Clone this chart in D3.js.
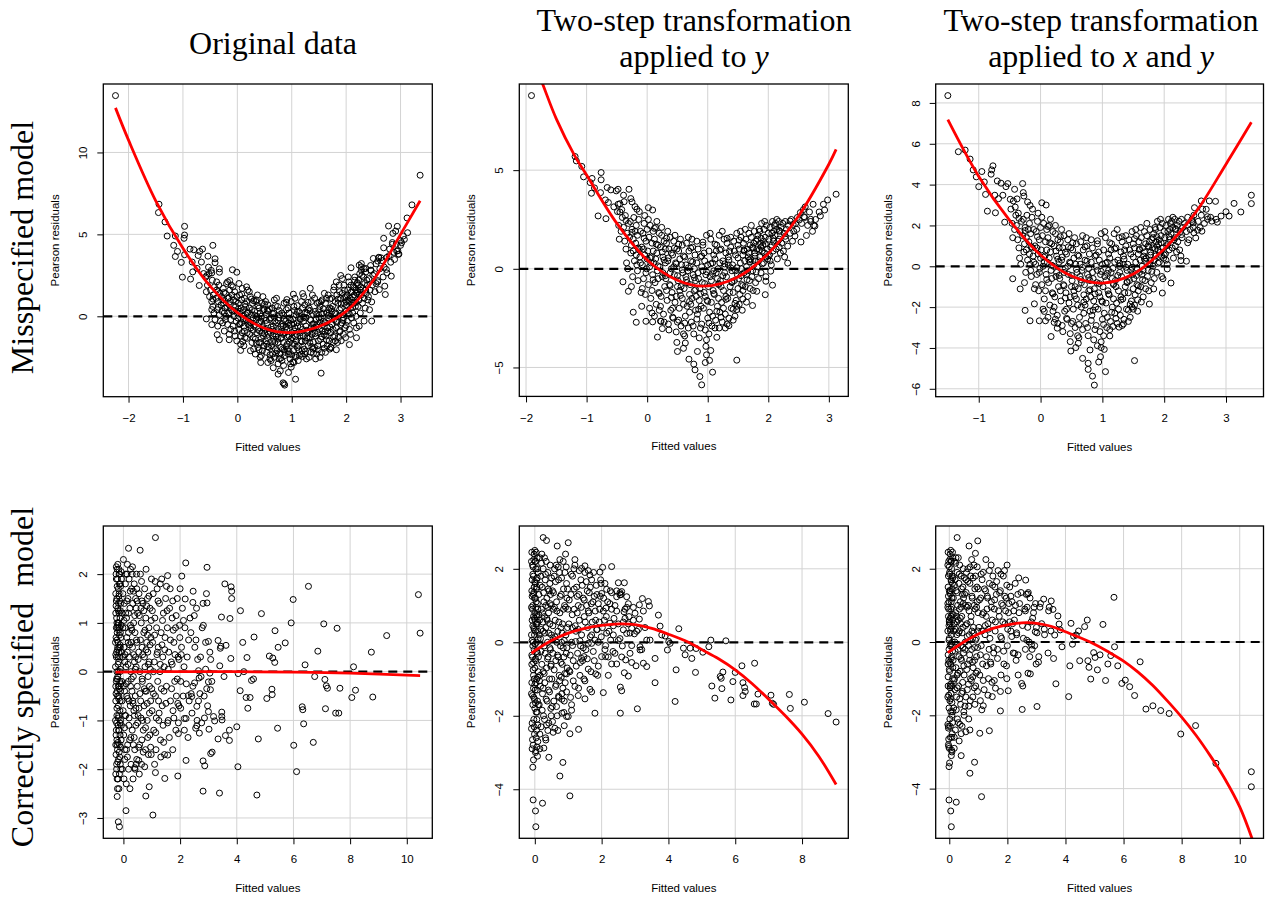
<!DOCTYPE html>
<html>
<head>
<meta charset="utf-8">
<script src="https://cdn.jsdelivr.net/npm/d3@7"></script>
<style>
html,body{margin:0;padding:0;background:#fff;}
svg{display:block;}
</style>
</head>
<body>
<svg id="chart" width="1265" height="899"></svg>
<script>
// ---- Residuals vs fitted values: [fitted, Pearson residual] ----

// Misspecified model, original data
const misOriginal = [
[-2.24,13.47],[3.36,8.61],[3.21,6.8],[3.12,6.0],[3.13,5.1],[-1.44,6.84],[-1.45,6.33],[-1.33,5.76],[-1.29,4.9],[-1.14,4.9],[-0.97,5.49],[-0.97,4.96],[-0.98,4.76],[-1.17,4.33],[-1.14,3.65],[-1.1,3.96],[-1.03,3.29],[-1.01,2.39],[-0.97,3.76],[-0.87,4.1],[-0.86,2.27],[-0.8,4.06],[-0.72,3.71],[-0.69,3.96],[-0.64,4.1],[-0.7,1.88],[-0.66,3.31],[-0.83,3.31],[-0.82,2.71],[-0.74,2.92],[-0.45,4.33],[-0.54,3.67],[-0.56,2.49],[-0.41,3.51],[-0.41,3.27],[-0.33,2.9],[-0.33,2.69],[-0.62,2.61],[-0.47,2.65],[-0.57,-0.16],[-0.47,0.41],[-0.47,-0.51],[-0.37,-1.12],[-0.33,-1.43],[-0.15,-1.43],[-0.09,2.84],[-0.01,2.69],[-0.14,2.18],[0.06,-2.08],[0.44,-2.39],[0.43,-2.82],[0.56,-2.82],[0.66,-3.14],[0.75,-3.53],[0.79,-3.33],[0.84,-4.06],[0.87,-4.2],[0.86,-4.12],[0.94,-3.43],[0.99,-3.1],[1.04,-2.82],[1.07,-3.84],[1.07,-2.39],[1.54,-3.47],[1.03,1.35],[0.91,1.02],[1.34,1.71],[1.2,1.39],[1.9,2.49],[2.09,2.96],[2.24,3.12],[2.28,3.22],[2.28,3.02],[2.36,2.92],[2.5,3.53],[2.45,2.82],[2.6,3.57],[2.64,3.57],[2.58,3.37],[2.58,2.18],[2.55,2.0],[2.61,1.63],[2.47,0.88],[2.47,-0.29],[2.33,-0.29],[2.19,-1.31],[2.06,-1.73],[1.91,-1.49],[1.82,-2.04],[1.72,-1.9],[2.69,4.76],[2.69,4.18],[2.71,1.84],[2.72,1.33],[2.74,2.86],[2.75,2.65],[2.78,5.51],[2.86,5.06],[2.85,4.39],[2.83,2.45],[2.91,5.2],[2.94,5.49],[2.89,3.47],[2.93,3.98],[2.96,3.78],[3.05,4.9],[3.02,4.49],[3.07,4.69],[3.0,4.33],
[-0.58,2.4],[-0.55,1.9],[-0.52,2.6],[-0.57,1.5],[-0.53,3.0],[-0.51,1.2],
[-0.49,1.6],[-0.47,0.9],[-0.46,2.2],[-0.44,1.3],[-0.43,0.2],[-0.42,1.8],[-0.41,-0.2],[-0.45,0.6],[-0.48,2.8],
[-0.39,1.1],[-0.38,1.6],[-0.37,0.4],[-0.36,-0.6],[-0.35,0.9],[-0.34,1.9],[-0.33,0.1],[-0.32,1.4],[-0.31,-0.3],[-0.3,0.7],[-0.38,2.1],[-0.35,1.5],
[-0.29,1.2],[-0.28,0.3],[-0.27,-0.4],[-0.26,1.7],[-0.25,0.8],[-0.24,-0.9],[-0.23,0.5],[-0.22,1.4],[-0.21,0.0],[-0.2,2.0],[-0.27,1.0],[-0.24,0.2],[-0.22,-0.2],
[-0.19,0.6],[-0.18,-0.5],[-0.17,1.1],[-0.16,0.2],[-0.15,-1.1],[-0.14,1.6],[-0.13,0.9],[-0.12,-0.2],[-0.11,0.4],[-0.1,1.3],[-0.18,2.1],[-0.15,0.7],[-0.12,-0.8],[-0.11,1.9],
[-0.09,0.3],[-0.08,-0.6],[-0.07,1.0],[-0.06,0.0],[-0.05,1.5],[-0.04,-1.2],[-0.03,0.6],[-0.02,-0.3],[-0.01,1.2],[0,0.2],[-0.08,1.8],[-0.05,-0.9],[-0.03,0.9],[-0.01,-1.5],
[0.01,-0.1],[0.02,0.8],[0.03,-0.8],[0.04,1.3],[0.05,0.3],[0.06,-1.2],[0.07,0.5],[0.08,-0.4],[0.09,1.7],[0.1,0.0],[0.03,2.0],[0.06,-1.7],[0.08,1.0],[0.04,-0.5],[0.09,-1.0],
[0.11,0.4],[0.12,-0.6],[0.13,1.1],[0.14,-1.3],[0.15,0.1],[0.16,-0.2],[0.17,0.9],[0.18,-1.0],[0.19,1.6],[0.2,-0.5],[0.12,-1.8],[0.15,0.6],[0.18,0.2],[0.13,-0.9],[0.17,1.8],
[0.21,-0.3],[0.22,0.5],[0.23,-1.1],[0.24,1.2],[0.25,-0.7],[0.26,0.1],[0.27,-1.6],[0.28,0.8],[0.29,-0.1],[0.3,-2.0],[0.22,1.5],[0.25,-0.4],[0.27,0.4],[0.29,-1.3],[0.24,-2.1],
[0.31,-0.6],[0.32,0.3],[0.33,-1.4],[0.34,0.9],[0.35,-0.2],[0.36,-1.0],[0.37,1.3],[0.38,-1.9],[0.39,-0.4],[0.4,0.5],[0.33,-2.3],[0.36,0.0],[0.38,-0.8],[0.4,-1.6],[0.35,1.0],
[0.41,-0.9],[0.42,0.2],[0.43,-1.6],[0.44,-0.3],[0.45,0.8],[0.46,-2.1],[0.47,-0.7],[0.48,-1.2],[0.49,0.4],[0.5,-0.1],[0.42,-2.5],[0.45,-1.0],[0.47,1.2],[0.49,-1.8],[0.44,0.0],
[0.51,-0.8],[0.52,-1.5],[0.53,0.1],[0.54,-2.2],[0.55,-0.4],[0.56,0.7],[0.57,-1.1],[0.58,-1.9],[0.59,-0.2],[0.6,-2.6],[0.52,0.9],[0.55,-1.3],[0.57,0.3],[0.59,-0.9],[0.54,-1.7],
[0.61,-1.0],[0.62,-0.1],[0.63,-1.8],[0.64,0.5],[0.65,-2.3],[0.66,-0.6],[0.67,-1.4],[0.68,1.0],[0.69,-0.3],[0.7,-2.0],[0.62,-2.7],[0.65,-1.2],[0.67,0.2],[0.69,-1.6],[0.64,-0.8],[0.68,-2.5],
[0.71,-1.2],[0.72,-0.4],[0.73,-2.1],[0.74,0.6],[0.75,-1.6],[0.76,-0.8],[0.77,-2.6],[0.78,0.1],[0.79,-1.0],[0.8,-1.9],[0.72,1.1],[0.74,-1.4],[0.76,-0.1],[0.78,-2.3],[0.8,-0.6],[0.75,-2.9],
[0.81,-1.3],[0.82,0.2],[0.83,-2.0],[0.84,-0.6],[0.85,-1.6],[0.86,0.8],[0.87,-2.4],[0.88,-1.0],[0.89,-0.3],[0.9,-1.8],[0.82,-2.7],[0.84,-1.1],[0.86,-0.2],[0.88,-2.2],[0.9,0.4],[0.85,-3.0],
[0.91,-0.8],[0.92,-1.7],[0.93,0.5],[0.94,-2.3],[0.95,-1.2],[0.96,-0.1],[0.97,-2.6],[0.98,-1.4],[0.99,0.9],[1.0,-0.5],[0.92,-2.0],[0.94,-0.4],[0.96,-1.6],[0.98,-2.9],[1.0,-1.0],[0.95,0.2],
[1.01,-1.3],[1.02,-0.2],[1.03,-2.1],[1.04,0.6],[1.05,-1.7],[1.06,-0.7],[1.07,-2.5],[1.08,0.1],[1.09,-1.1],[1.1,-1.9],[1.02,-2.8],[1.04,-0.9],[1.06,1.1],[1.08,-1.5],[1.1,-0.4],
[1.11,-0.6],[1.12,-1.8],[1.13,0.3],[1.14,-2.4],[1.15,-1.2],[1.16,-0.2],[1.17,-1.5],[1.18,0.9],[1.19,-2.1],[1.2,-0.8],[1.12,-2.7],[1.14,0.0],[1.16,-1.0],[1.18,-2.3],[1.2,0.5],
[1.21,-1.2],[1.22,-0.3],[1.23,-2.0],[1.24,0.7],[1.25,-1.5],[1.26,-0.6],[1.27,-2.6],[1.28,0.2],[1.29,-1.0],[1.3,-1.8],[1.22,1.2],[1.24,-2.3],[1.26,-0.1],[1.28,-1.3],[1.3,0.4],
[1.31,-0.9],[1.32,0.5],[1.33,-1.6],[1.34,-0.2],[1.35,-2.2],[1.36,0.9],[1.37,-1.1],[1.38,-0.5],[1.39,-2.0],[1.4,0.1],[1.32,-2.5],[1.34,-1.3],[1.36,-0.7],[1.38,1.3],[1.4,-1.6],
[1.41,-0.7],[1.42,-1.9],[1.43,0.3],[1.44,-1.2],[1.45,-0.2],[1.46,-2.3],[1.47,0.8],[1.48,-1.0],[1.49,-1.5],[1.5,0.4],[1.42,1.1],[1.44,-2.6],[1.46,-0.5],[1.48,-1.8],[1.5,-0.1],
[1.51,-0.8],[1.52,0.6],[1.53,-1.4],[1.54,-0.1],[1.55,-2.2],[1.56,1.0],[1.57,-0.5],[1.58,-1.7],[1.59,0.2],[1.6,-1.1],[1.52,-2.5],[1.54,0.9],[1.56,-0.9],[1.58,-0.3],[1.6,1.4],
[1.61,-0.4],[1.62,0.8],[1.63,-1.2],[1.64,0.2],[1.65,-1.8],[1.66,-0.7],[1.67,1.3],[1.68,-0.1],[1.69,-1.5],[1.7,0.5],[1.62,-2.2],[1.64,1.1],[1.66,-0.9],[1.68,0.4],[1.7,-2.0],
[1.71,0.0],[1.72,-1.0],[1.73,1.1],[1.74,-0.5],[1.75,0.6],[1.76,-1.6],[1.77,1.6],[1.78,-0.2],[1.79,-1.2],[1.8,0.9],[1.72,-1.9],[1.74,0.3],[1.76,-0.8],[1.78,1.8],[1.8,-1.5],
[1.81,0.2],[1.82,-0.7],[1.83,1.3],[1.84,-0.3],[1.85,0.8],[1.86,-1.3],[1.87,1.9],[1.88,0.4],[1.89,-0.9],[1.9,1.1],[1.82,2.1],[1.84,-1.6],[1.86,0.0],[1.88,1.5],[1.9,-0.5],
[1.91,0.5],[1.92,-0.4],[1.93,1.4],[1.94,0.1],[1.95,-1.1],[1.96,1.9],[1.97,0.8],[1.98,-0.7],[1.99,1.2],[2.0,0.3],[1.93,2.3],[1.95,-0.1],[1.97,1.6],[1.99,-1.3],[2.0,0.9],
[2.01,0.7],[2.02,-0.3],[2.03,1.6],[2.04,0.2],[2.05,2.1],[2.06,-0.8],[2.07,1.1],[2.08,0.5],[2.09,1.9],[2.1,-0.1],[2.02,1.3],[2.04,2.4],[2.06,0.9],[2.08,-1.1],[2.1,1.5],
[2.11,1.0],[2.12,0.2],[2.13,1.8],[2.14,-0.4],[2.15,1.3],[2.16,2.2],[2.17,0.6],[2.18,1.6],[2.19,-0.7],[2.2,2.0],[2.12,1.2],[2.14,0.8],[2.16,2.4],[2.18,0.0],[2.2,1.4],
[2.21,1.5],[2.22,0.6],[2.23,2.2],[2.24,1.0],[2.25,2.6],[2.26,0.2],[2.27,1.8],[2.28,1.3],[2.29,2.5],[2.3,0.8],[2.22,1.9],[2.24,-0.6],[2.26,1.6],[2.28,2.8],
[2.31,1.7],[2.32,2.4],[2.33,1.1],[2.34,2.0],[2.35,0.5],[2.36,2.7],[2.37,1.4],[2.38,2.2],[2.39,1.9],[2.4,1.0],[2.33,2.9],[2.36,1.6],
[2.42,2.3],[2.44,1.6],[2.46,2.8],[2.48,1.9],[2.45,3.1],[2.41,1.2],[2.49,2.5],[2.43,0.4],
[2.52,2.6],[2.55,3.2],[2.58,2.1],[2.62,2.9],[2.66,3.4],[2.68,2.4],[2.53,1.5],[2.6,3.6],[2.7,3.0],
[2.75,3.6],[2.8,4.1],[2.82,3.3],[2.88,3.9],[2.92,4.4],[2.97,3.8],[3.0,4.6],[2.95,4.0],[2.85,4.5],[2.79,3.7],
[0.02,0.45],[0.05,-0.45],[0.08,1.35],[0.11,-0.15],[0.14,0.75],[0.17,-1.35],[0.2,0.25],[0.23,-0.55],[0.26,1.05],[0.29,-0.85],[0.32,0.05],[0.35,-1.65],[0.38,0.65],[0.41,-0.35],[0.44,-1.35],[0.47,0.35],[0.5,-1.05],[0.53,-0.25],[0.56,-1.85],[0.59,0.45],[0.62,-0.65],[0.65,-1.55],[0.68,-0.05],[0.71,-2.25],[0.74,-0.95],[0.77,0.35],[0.8,-1.35],[0.83,-0.45],[0.86,-2.05],[0.89,-0.65],[0.92,-1.25],[0.95,-2.15],[0.98,-0.25],[1.01,-1.65],[1.04,-0.45],[1.07,-1.25],[1.1,0.25],[1.13,-2.05],[1.16,-0.65],[1.19,-1.55],[1.22,-0.05],[1.25,-2.15],[1.28,-0.85],[1.31,-1.35],[1.34,0.35],[1.37,-1.85],[1.4,-0.45],[1.43,-1.05],[1.46,0.15],[1.49,-2.05],[1.52,-0.35],[1.55,-1.25],[1.58,0.45],[1.61,-0.95],[1.64,-1.45],[1.67,0.05],[1.7,-0.65],[1.73,0.45],[1.76,-1.25],[1.79,0.15],[1.82,-0.35],[1.85,1.05],[1.88,-0.95],[1.91,0.75],[1.94,-0.25],[1.97,1.15],[2.0,-0.55],[2.03,0.95],[2.06,0.15],[2.09,1.45],[2.12,0.55],[2.15,1.75],[2.18,0.85],[2.21,2.05],[2.24,1.35],[0.1,-1.55],[0.3,0.95],[0.5,0.75],[0.7,0.65],[0.9,0.85],[1.1,0.65],[1.3,0.85],[1.5,0.85],[1.7,1.05],[0.4,-2.05],[0.6,-2.35],[0.8,-2.55],[1.0,-2.35],[1.2,-2.45],[1.4,-2.25],[1.6,-1.95],[0.55,0.35],[0.75,-0.25],[0.95,-0.55],[1.15,-0.15],[1.35,-0.25],[1.55,0.15],[0.65,0.15],[0.85,0.05],[1.05,0.35],[1.25,0.25],[1.45,-0.65],[-0.05,0.35],[-0.15,1.15],[-0.25,1.45],[-0.35,0.55],[-0.45,1.05]
];

// Misspecified model, two-step transformation applied to y
const misTransY = [
[-1.91,8.78],[-1.19,5.69],[-1.17,5.47],[-1.08,5.19],[-1.05,4.66],[-0.91,4.58],[-0.76,4.88],[-0.76,4.51],[-0.77,3.86],[-0.94,4.37],[-0.87,4.1],[-0.92,3.83],[-0.81,2.68],[-0.68,2.54],[-0.66,4.12],[-0.6,4.0],[-0.51,3.95],[-0.48,4.03],[-0.3,4.03],[-0.39,3.73],[-0.69,3.49],[-0.64,3.36],[-0.55,3.14],[-0.45,2.88],[-0.27,3.56],[-0.25,3.39],[-0.2,3.15],[-0.17,3.02],[0.02,3.1],[0.09,2.98],[-0.48,3.27],[-0.4,-0.66],[-0.31,-1.14],[-0.23,-2.2],[-0.18,-2.71],[-0.09,-1.9],[-0.02,-2.66],[0.09,-2.69],[0.08,-2.24],[0.17,-3.46],[0.23,-2.66],[0.25,-3.03],[0.49,-3.73],[0.5,-4.19],[0.6,-4.03],[0.63,-3.76],[0.69,-4.58],[0.77,-4.83],[0.79,-5.12],[0.83,-4.19],[0.87,-5.46],[0.9,-5.88],[0.96,-4.75],[0.97,-3.93],[1.03,-4.64],[1.05,-4.14],[1.08,-5.24],[0.98,-4.36],[1.48,-4.63],[1.15,-3.47],[1.19,-3.0],[1.29,-3.0],[1.35,-2.88],[1.48,-2.07],[1.58,-1.53],[1.64,-1.69],[1.74,-1.86],[1.81,-1.14],[1.95,-1.31],[1.96,-0.63],[2.07,-0.83],[2.04,-0.12],[2.32,0.29],[2.32,1.15],[2.54,1.36],[2.63,1.69],[2.44,1.66],[2.41,2.25],[2.53,2.85],[2.61,3.14],[2.74,3.27],[2.68,2.88],[2.7,2.51],[2.77,2.17],[2.84,2.88],[2.86,2.68],[2.91,3.27],[2.93,2.98],[2.98,3.49],[3.12,3.78],[2.59,2.64],[2.51,2.47],[2.36,2.42],
[-0.49,2.9],[-0.47,2.2],[-0.45,3.3],[-0.43,1.9],[-0.41,2.6],[-0.46,1.5],[-0.42,3.0],
[-0.39,2.1],[-0.37,1.4],[-0.36,2.7],[-0.34,0.3],[-0.33,1.8],[-0.31,2.3],[-0.38,3.4],[-0.35,1.0],[-0.32,0.0],
[-0.29,1.6],[-0.28,2.4],[-0.27,0.8],[-0.26,1.2],[-0.25,2.0],[-0.24,-0.4],[-0.23,1.5],[-0.22,2.6],[-0.21,0.4],[-0.2,1.9],[-0.26,-0.9],[-0.23,0.9],
[-0.19,1.3],[-0.18,2.2],[-0.17,0.2],[-0.16,1.7],[-0.15,-0.6],[-0.14,2.5],[-0.13,1.0],[-0.12,0.6],[-0.11,1.9],[-0.1,-1.2],[-0.18,0.7],[-0.16,-0.1],[-0.13,2.9],[-0.11,0.3],
[-0.09,1.1],[-0.08,0.2],[-0.07,1.8],[-0.06,-0.5],[-0.05,2.3],[-0.04,0.7],[-0.03,-1.3],[-0.02,1.4],[-0.01,0.0],[0,2.0],[-0.08,-1.0],[-0.06,1.0],[-0.04,2.7],[-0.02,-0.2],[0,0.5],
[0.01,0.9],[0.02,-0.8],[0.03,1.6],[0.04,0.1],[0.05,2.2],[0.06,-1.5],[0.07,0.6],[0.08,1.3],[0.09,-0.3],[0.1,1.9],[0.02,2.5],[0.04,-2.0],[0.06,0.3],[0.08,-1.1],[0.1,0.9],
[0.11,0.3],[0.12,1.5],[0.13,-0.7],[0.14,2.1],[0.15,-1.8],[0.16,0.8],[0.17,-0.1],[0.18,1.2],[0.19,-1.2],[0.2,1.8],[0.12,-2.4],[0.14,0.5],[0.16,2.4],[0.18,-0.5],[0.2,-2.1],
[0.21,0.1],[0.22,1.1],[0.23,-1.4],[0.24,1.7],[0.25,-0.4],[0.26,0.6],[0.27,-2.3],[0.28,1.4],[0.29,-0.9],[0.3,0.3],[0.22,-1.9],[0.24,2.1],[0.26,-0.2],[0.28,-2.7],[0.3,1.0],
[0.31,-0.5],[0.32,1.3],[0.33,-1.6],[0.34,0.4],[0.35,-2.8],[0.36,1.0],[0.37,-0.8],[0.38,1.6],[0.39,-2.1],[0.4,0.0],[0.32,-1.1],[0.34,1.9],[0.36,-3.1],[0.38,-0.2],[0.4,0.8],
[0.41,-1.2],[0.42,0.7],[0.43,-2.5],[0.44,1.4],[0.45,-0.3],[0.46,-1.7],[0.47,0.3],[0.48,-3.2],[0.49,1.0],[0.5,-0.9],[0.42,-2.0],[0.44,0.1],[0.46,1.7],[0.48,-1.4],[0.5,-2.7],
[0.51,-0.6],[0.52,0.9],[0.53,-2.0],[0.54,-1.1],[0.55,1.5],[0.56,-2.9],[0.57,0.2],[0.58,-1.5],[0.59,-0.2],[0.6,-3.3],[0.52,-2.6],[0.54,0.5],[0.56,-0.9],[0.58,1.2],[0.6,-1.8],
[0.61,-1.0],[0.62,0.6],[0.63,-2.4],[0.64,-0.4],[0.65,1.3],[0.66,-1.9],[0.67,-0.1],[0.68,-3.0],[0.69,0.9],[0.7,-1.3],[0.62,-3.4],[0.64,0.2],[0.66,-0.7],[0.68,1.6],[0.7,-2.2],
[0.71,-0.8],[0.72,0.4],[0.73,-2.7],[0.74,-1.5],[0.75,1.1],[0.76,-0.3],[0.77,-3.3],[0.78,-1.1],[0.79,0.7],[0.8,-2.1],[0.72,-1.8],[0.74,1.5],[0.76,-2.9],[0.78,0.0],[0.8,-0.6],
[0.81,-1.4],[0.82,0.3],[0.83,-2.3],[0.84,1.0],[0.85,-0.5],[0.86,-3.5],[0.87,-1.0],[0.88,0.6],[0.89,-1.9],[0.9,-2.8],[0.82,1.4],[0.84,-0.2],[0.86,-1.6],[0.88,-3.0],[0.9,0.1],
[0.91,-0.7],[0.92,1.2],[0.93,-2.0],[0.94,-1.2],[0.95,0.4],[0.96,-3.1],[0.97,-0.3],[0.98,1.7],[0.99,-1.6],[1.0,-2.5],[0.92,-0.1],[0.94,0.8],[0.96,-1.4],[0.98,-3.6],[1.0,0.2],
[1.01,-0.9],[1.02,0.9],[1.03,-2.2],[1.04,-0.4],[1.05,1.5],[1.06,-1.7],[1.07,-2.9],[1.08,0.3],[1.09,-1.1],[1.1,-0.1],[1.02,-3.3],[1.04,1.8],[1.06,-0.6],[1.08,-2.4],[1.1,0.7],
[1.11,-1.3],[1.12,0.5],[1.13,-2.6],[1.14,-0.2],[1.15,1.2],[1.16,-1.9],[1.17,0.0],[1.18,-0.8],[1.19,1.7],[1.2,-2.2],[1.12,-3.0],[1.14,0.9],[1.16,-0.5],[1.18,-1.5],[1.2,0.3],
[1.21,-0.6],[1.22,1.0],[1.23,-1.7],[1.24,-2.7],[1.25,0.4],[1.26,-1.1],[1.27,1.5],[1.28,-0.2],[1.29,-2.3],[1.3,0.8],[1.22,-0.9],[1.24,1.9],[1.26,-2.0],[1.28,0.1],[1.3,-1.4],
[1.31,-0.4],[1.32,1.3],[1.33,-1.5],[1.34,0.2],[1.35,-2.5],[1.36,0.9],[1.37,-0.9],[1.38,1.6],[1.39,-2.0],[1.4,-0.1],[1.32,-2.8],[1.34,0.6],[1.36,-1.2],[1.38,1.1],[1.4,-0.7],
[1.41,0.2],[1.42,-1.2],[1.43,1.4],[1.44,-0.6],[1.45,-2.4],[1.46,0.7],[1.47,-1.6],[1.48,1.8],[1.49,-0.3],[1.5,-1.0],[1.42,-2.6],[1.44,0.9],[1.46,-0.1],[1.48,-1.9],[1.5,1.2],
[1.51,-0.5],[1.52,1.0],[1.53,-1.3],[1.54,0.3],[1.55,1.6],[1.56,-0.8],[1.57,-2.1],[1.58,0.7],[1.59,1.3],[1.6,-0.2],[1.52,-1.8],[1.54,1.9],[1.56,0.0],[1.58,-1.1],[1.6,0.9],
[1.61,0.4],[1.62,-0.9],[1.63,1.5],[1.64,-0.3],[1.65,1.0],[1.66,-1.4],[1.67,0.6],[1.68,1.8],[1.69,-0.6],[1.7,1.2],[1.62,2.0],[1.64,0.1],[1.66,-0.1],[1.68,0.8],[1.7,-1.0],
[1.71,0.5],[1.72,1.6],[1.73,-0.4],[1.74,1.1],[1.75,-1.1],[1.76,0.2],[1.77,1.9],[1.78,0.8],[1.79,-0.7],[1.8,1.4],[1.72,2.2],[1.74,-0.1],[1.76,1.3],[1.78,0.4],
[1.81,1.0],[1.82,0.1],[1.83,1.7],[1.84,-0.5],[1.85,2.0],[1.86,0.6],[1.87,1.3],[1.88,-0.2],[1.89,2.3],[1.9,0.9],[1.82,1.5],[1.84,0.4],[1.86,1.9],[1.88,1.1],
[1.91,1.2],[1.92,0.3],[1.93,2.0],[1.94,0.8],[1.95,1.6],[1.96,-0.4],[1.97,2.2],[1.98,1.0],[1.99,0.5],[2.0,1.8],[1.92,1.4],[1.94,2.4],[1.96,0.6],
[2.01,1.5],[2.02,0.7],[2.03,2.1],[2.04,1.1],[2.05,0.2],[2.06,1.8],[2.07,2.4],[2.08,0.9],[2.09,1.4],[2.1,2.2],[2.03,0.4],[2.06,1.2],[2.09,1.9],
[2.11,1.7],[2.12,2.3],[2.13,1.0],[2.14,2.0],[2.15,0.5],[2.16,1.4],[2.17,2.4],[2.18,1.1],[2.19,1.9],[2.2,0.8],[2.14,2.5],[2.18,1.5],
[2.21,2.1],[2.22,1.3],[2.24,2.3],[2.25,0.9],[2.26,1.8],[2.28,2.4],[2.29,1.5],[2.3,2.0],[2.27,0.6],
[2.33,2.2],[2.36,1.8],[2.38,2.5],[2.42,1.9],[2.45,2.3],[2.48,2.6],[2.4,1.4],[2.47,2.0],
[2.55,2.3],[2.6,2.6],[2.65,2.2],[2.7,2.4],[2.73,1.9],[2.78,2.5],[2.58,3.0],[2.75,2.2],
[0.05,0.55],[0.1,-0.55],[0.15,1.25],[0.2,-1.25],[0.25,0.85],[0.3,-0.35],[0.35,0.55],[0.4,-1.45],[0.45,1.05],[0.5,-0.35],[0.55,-1.35],[0.6,0.65],[0.65,-0.55],[0.7,-1.65],[0.75,0.35],[0.8,-1.05],[0.85,-2.05],[0.9,0.65],[0.95,-0.75],[1.0,-1.65],[1.05,0.25],[1.1,-1.25],[1.15,-2.15],[1.2,0.95],[1.25,-0.35],[1.3,-1.55],[1.35,0.45],[1.4,-0.65],[1.45,-1.75],[1.5,0.55],[1.55,-0.35],[1.6,0.95],[1.65,-0.55],[1.7,0.35],[1.75,1.05],[1.8,-0.15],[1.85,0.95],[1.9,0.25],[1.95,1.25],[2.0,0.65],[0.12,2.05],[0.32,1.55],[0.52,1.25],[0.72,1.05],[0.92,1.35],[1.12,1.25],[1.32,1.55],[1.52,1.45],[0.22,-2.65],[0.42,-2.45],[0.62,-2.75],[0.82,-2.55],[1.02,-2.75],[1.22,-2.45],[1.42,-2.05],[-0.15,1.05],[-0.25,1.85],[-0.05,1.55],[-0.35,2.45],[0.18,0.15],[0.38,-0.85],[0.58,-0.05],[0.78,-0.45],[0.98,-0.15],[1.18,-0.75],[1.38,0.05],[1.58,-0.85],[1.78,0.65],[0.28,0.45],[0.48,0.25],[0.68,0.05],[0.88,-1.25],[1.08,-0.25],[1.28,0.25],[1.48,0.05],[1.68,0.45],[1.88,1.55],[2.08,1.55],[2.18,1.95],[2.28,1.65]
];

// Misspecified model, two-step transformation applied to x and y
const misTransXY = [
[-1.5,8.36],[-1.33,5.61],[-1.22,5.69],[-1.14,5.25],[-1.09,4.72],[-0.95,4.64],[-0.77,4.92],[-0.79,4.72],[-0.8,4.51],[-1.04,4.38],[-0.91,4.13],[-1.0,3.9],[-0.89,3.52],[-0.86,2.7],[-0.73,2.62],[-0.7,4.18],[-0.64,4.07],[-0.56,3.9],[-0.53,4.05],[-0.29,4.05],[-0.42,3.77],[-0.74,3.48],[-0.68,3.31],[-0.61,3.48],[-0.49,3.28],[-0.28,3.61],[-0.27,3.44],[-0.21,3.15],[-0.17,2.98],[0.02,3.11],[0.09,3.0],[-0.58,2.16],[-0.45,-0.61],[-0.33,-1.11],[-0.25,-2.16],[-0.17,-2.67],[-0.1,-1.84],[-0.02,-2.67],[0.08,-2.67],[0.06,-2.21],[0.17,-3.44],[0.24,-2.59],[0.27,-3.03],[0.48,-3.69],[0.49,-4.15],[0.57,-3.98],[0.61,-3.77],[0.68,-4.51],[0.77,-4.75],[0.77,-5.05],[0.8,-4.1],[0.84,-5.38],[0.87,-5.82],[0.94,-4.69],[0.92,-3.89],[0.98,-3.98],[1.03,-4.07],[1.05,-5.16],[0.97,-4.43],[1.52,-4.62],[1.12,-3.41],[1.17,-2.95],[1.27,-2.98],[1.34,-2.82],[1.5,-2.1],[1.57,-1.64],[1.63,-1.75],[1.76,-1.85],[1.83,-1.11],[1.97,-1.31],[1.98,-0.61],[2.11,-0.82],[2.05,-0.13],[2.27,0.28],[2.36,0.25],[2.38,1.15],[2.51,1.39],[2.61,1.72],[2.48,1.64],[2.38,2.02],[2.45,2.3],[2.49,2.87],[2.6,3.2],[2.73,3.2],[2.68,2.79],[2.7,2.43],[2.77,2.21],[2.86,2.16],[2.92,2.46],[2.84,2.3],[3.0,2.67],[3.05,2.46],[3.13,3.08],[3.24,2.66],[3.41,3.48],[3.41,3.07],[2.83,3.18],[2.47,2.13],[2.54,1.77],
[-0.48,2.8],[-0.46,2.1],[-0.44,3.2],[-0.42,1.8],[-0.4,2.5],[-0.45,1.4],[-0.41,2.9],
[-0.39,2.0],[-0.37,1.3],[-0.36,2.6],[-0.34,0.4],[-0.33,1.7],[-0.31,2.2],[-0.38,3.3],[-0.35,0.9],[-0.32,0.1],
[-0.29,1.5],[-0.28,2.3],[-0.27,0.7],[-0.26,1.1],[-0.25,1.9],[-0.24,-0.3],[-0.23,1.4],[-0.22,2.5],[-0.21,0.3],[-0.2,1.8],[-0.26,-0.8],[-0.23,0.8],
[-0.19,1.2],[-0.18,2.1],[-0.17,0.1],[-0.16,1.6],[-0.15,-0.5],[-0.14,2.4],[-0.13,0.9],[-0.12,0.5],[-0.11,1.8],[-0.1,-1.1],[-0.18,0.6],[-0.16,-0.2],[-0.13,2.8],[-0.11,0.2],
[-0.09,1.0],[-0.08,0.1],[-0.07,1.7],[-0.06,-0.4],[-0.05,2.2],[-0.04,0.6],[-0.03,-1.2],[-0.02,1.3],[-0.01,-0.1],[0,1.9],[-0.08,-0.9],[-0.06,0.9],[-0.04,2.6],[-0.02,-0.3],[0,0.4],
[0.01,0.8],[0.02,-0.9],[0.03,1.5],[0.04,0.0],[0.05,2.1],[0.06,-1.6],[0.07,0.5],[0.08,1.2],[0.09,-0.4],[0.1,1.8],[0.02,2.4],[0.04,-2.1],[0.06,0.2],[0.08,-1.2],[0.1,0.8],
[0.11,0.2],[0.12,1.4],[0.13,-0.8],[0.14,2.0],[0.15,-1.9],[0.16,0.7],[0.17,-0.2],[0.18,1.1],[0.19,-1.3],[0.2,1.7],[0.12,-2.5],[0.14,0.4],[0.16,2.3],[0.18,-0.6],[0.2,-2.2],
[0.21,0.0],[0.22,1.0],[0.23,-1.5],[0.24,1.6],[0.25,-0.5],[0.26,0.5],[0.27,-2.4],[0.28,1.3],[0.29,-1.0],[0.3,0.2],[0.22,-2.0],[0.24,2.0],[0.26,-0.3],[0.28,-2.8],[0.3,0.9],
[0.31,-0.6],[0.32,1.2],[0.33,-1.7],[0.34,0.3],[0.35,-2.9],[0.36,0.9],[0.37,-0.9],[0.38,1.5],[0.39,-2.2],[0.4,-0.1],[0.32,-1.2],[0.34,1.8],[0.36,-3.2],[0.38,-0.3],[0.4,0.7],
[0.41,-1.3],[0.42,0.6],[0.43,-2.6],[0.44,1.3],[0.45,-0.4],[0.46,-1.8],[0.47,0.2],[0.48,-3.3],[0.49,0.9],[0.5,-1.0],[0.42,-2.1],[0.44,0.0],[0.46,1.6],[0.48,-1.5],[0.5,-2.8],
[0.51,-0.7],[0.52,0.8],[0.53,-2.1],[0.54,-1.2],[0.55,1.4],[0.56,-3.0],[0.57,0.1],[0.58,-1.6],[0.59,-0.3],[0.6,-3.4],[0.52,-2.7],[0.54,0.4],[0.56,-1.0],[0.58,1.1],[0.6,-1.9],
[0.61,-1.1],[0.62,0.5],[0.63,-2.5],[0.64,-0.5],[0.65,1.2],[0.66,-2.0],[0.67,-0.2],[0.68,-3.1],[0.69,0.8],[0.7,-1.4],[0.62,-3.5],[0.64,0.1],[0.66,-0.8],[0.68,1.5],[0.7,-2.3],
[0.71,-0.9],[0.72,0.3],[0.73,-2.8],[0.74,-1.6],[0.75,1.0],[0.76,-0.4],[0.77,-3.4],[0.78,-1.2],[0.79,0.6],[0.8,-2.2],[0.72,-1.9],[0.74,1.4],[0.76,-3.0],[0.78,-0.1],[0.8,-0.7],
[0.81,-1.5],[0.82,0.2],[0.83,-2.4],[0.84,0.9],[0.85,-0.6],[0.86,-3.6],[0.87,-1.1],[0.88,0.5],[0.89,-2.0],[0.9,-2.9],[0.82,1.3],[0.84,-0.3],[0.86,-1.7],[0.88,-3.1],[0.9,0.0],
[0.91,-0.8],[0.92,1.1],[0.93,-2.1],[0.94,-1.3],[0.95,0.3],[0.96,-3.2],[0.97,-0.4],[0.98,1.6],[0.99,-1.7],[1.0,-2.6],[0.92,-0.2],[0.94,0.7],[0.96,-1.5],[0.98,-3.7],[1.0,0.1],
[1.01,-1.0],[1.02,0.8],[1.03,-2.3],[1.04,-0.5],[1.05,1.4],[1.06,-1.8],[1.07,-3.0],[1.08,0.2],[1.09,-1.2],[1.1,-0.2],[1.02,-3.4],[1.04,1.7],[1.06,-0.7],[1.08,-2.5],[1.1,0.6],
[1.11,-1.4],[1.12,0.4],[1.13,-2.7],[1.14,-0.3],[1.15,1.1],[1.16,-2.0],[1.17,-0.1],[1.18,-0.9],[1.19,1.6],[1.2,-2.3],[1.12,-3.1],[1.14,0.8],[1.16,-0.6],[1.18,-1.6],[1.2,0.2],
[1.21,-0.7],[1.22,0.9],[1.23,-1.8],[1.24,-2.8],[1.25,0.3],[1.26,-1.2],[1.27,1.4],[1.28,-0.3],[1.29,-2.4],[1.3,0.7],[1.22,-1.0],[1.24,1.8],[1.26,-2.1],[1.28,0.0],[1.3,-1.5],
[1.31,-0.5],[1.32,1.2],[1.33,-1.6],[1.34,0.1],[1.35,-2.6],[1.36,0.8],[1.37,-1.0],[1.38,1.5],[1.39,-2.1],[1.4,-0.2],[1.32,-2.9],[1.34,0.5],[1.36,-1.3],[1.38,1.0],[1.4,-0.8],
[1.41,0.1],[1.42,-1.3],[1.43,1.3],[1.44,-0.7],[1.45,-2.5],[1.46,0.6],[1.47,-1.7],[1.48,1.7],[1.49,-0.4],[1.5,-1.1],[1.42,-2.7],[1.44,0.8],[1.46,-0.2],[1.48,-2.0],[1.5,1.1],
[1.51,-0.6],[1.52,0.9],[1.53,-1.4],[1.54,0.2],[1.55,1.5],[1.56,-0.9],[1.57,-2.2],[1.58,0.6],[1.59,1.2],[1.6,-0.3],[1.52,-1.9],[1.54,1.8],[1.56,-0.1],[1.58,-1.2],[1.6,0.8],
[1.61,0.3],[1.62,-1.0],[1.63,1.4],[1.64,-0.4],[1.65,0.9],[1.66,-1.5],[1.67,0.5],[1.68,1.7],[1.69,-0.7],[1.7,1.1],[1.62,1.9],[1.64,0.0],[1.66,-0.2],[1.68,0.7],[1.7,-1.1],
[1.71,0.4],[1.72,1.5],[1.73,-0.5],[1.74,1.0],[1.75,-1.2],[1.76,0.1],[1.77,1.8],[1.78,0.7],[1.79,-0.8],[1.8,1.3],[1.72,2.1],[1.74,-0.2],[1.76,1.2],[1.78,0.3],
[1.81,0.9],[1.82,0.0],[1.83,1.6],[1.84,-0.6],[1.85,1.9],[1.86,0.5],[1.87,1.2],[1.88,-0.3],[1.89,2.2],[1.9,0.8],[1.82,1.4],[1.84,0.3],[1.86,1.8],[1.88,1.0],
[1.91,1.1],[1.92,0.2],[1.93,1.9],[1.94,0.7],[1.95,1.5],[1.96,-0.5],[1.97,2.1],[1.98,0.9],[1.99,0.4],[2.0,1.7],[1.92,1.3],[1.94,2.3],[1.96,0.5],
[2.01,1.4],[2.02,0.6],[2.03,2.0],[2.04,1.0],[2.05,0.1],[2.06,1.7],[2.07,2.3],[2.08,0.8],[2.09,1.3],[2.1,2.1],[2.03,0.3],[2.06,1.1],[2.09,1.8],
[2.11,1.6],[2.12,2.2],[2.13,0.9],[2.14,1.9],[2.15,0.4],[2.16,1.3],[2.17,2.3],[2.18,1.0],[2.19,1.8],[2.2,0.7],[2.14,2.4],[2.18,1.4],
[2.21,2.0],[2.22,1.2],[2.24,2.2],[2.25,0.8],[2.26,1.7],[2.28,2.3],[2.29,1.4],[2.3,1.9],[2.27,0.5],
[2.33,2.1],[2.36,1.7],[2.38,2.4],[2.42,1.8],[2.45,2.2],[2.48,2.5],[2.4,1.3],[2.47,1.9],
[2.55,2.2],[2.6,2.5],[2.65,2.1],[2.7,2.3],[2.58,1.9],[2.75,2.4],[2.62,2.8],
[0.05,0.45],[0.1,-0.65],[0.15,1.15],[0.2,-1.35],[0.25,0.75],[0.3,-0.45],[0.35,0.45],[0.4,-1.55],[0.45,0.95],[0.5,-0.45],[0.55,-1.45],[0.6,0.55],[0.65,-0.65],[0.7,-1.75],[0.75,0.25],[0.8,-1.15],[0.85,-2.15],[0.9,0.55],[0.95,-0.85],[1.0,-1.75],[1.05,0.15],[1.1,-1.35],[1.15,-2.25],[1.2,0.85],[1.25,-0.45],[1.3,-1.65],[1.35,0.35],[1.4,-0.75],[1.45,-1.85],[1.5,0.45],[1.55,-0.45],[1.6,0.85],[1.65,-0.65],[1.7,0.25],[1.75,0.95],[1.8,-0.25],[1.85,0.85],[1.9,0.15],[1.95,1.15],[2.0,0.55],[0.12,1.95],[0.32,1.45],[0.52,1.15],[0.72,0.95],[0.92,1.25],[1.12,1.15],[1.32,1.45],[1.52,1.35],[0.22,-2.75],[0.42,-2.55],[0.62,-2.85],[0.82,-2.65],[1.02,-2.85],[1.22,-2.55],[1.42,-2.15],[-0.15,0.95],[-0.25,1.75],[-0.05,1.45],[-0.35,2.35],[0.18,0.05],[0.38,-0.95],[0.58,-0.15],[0.78,-0.55],[0.98,-0.25],[1.18,-0.85],[1.38,-0.05],[1.58,-0.95],[1.78,0.55],[0.28,0.35],[0.48,0.15],[0.68,-0.05],[0.88,-1.35],[1.08,-0.35],[1.28,0.15],[1.48,-0.05],[1.68,0.35],[1.88,1.45],[2.08,1.45],[2.18,1.85],[2.28,1.55]
];

// Correctly specified model, original data
const corOriginal = [
[1.13,2.75],[0.18,2.53],[0.59,2.49],[2.2,2.23],[2.95,2.14],[2.06,1.96],[1.56,1.97],[3.58,1.8],[3.8,1.74],[3.82,1.65],[3.82,1.5],[2.93,1.6],[2.95,1.41],[2.81,1.4],[2.18,1.49],[2.45,1.42],[3.46,1.12],[3.76,1.09],[4.13,1.25],[4.87,1.19],[6.53,1.75],[5.99,1.48],[5.92,1.0],[7.07,0.98],[7.54,0.89],[10.41,1.58],[10.47,0.79],[9.29,0.74],[8.75,0.4],[8.12,0.1],[6.86,0.42],[6.41,0.14],[5.71,0.59],[5.46,0.5],[5.35,0.84],[5.15,0.32],[5.27,0.28],[5.34,0.19],[4.61,0.71],[4.21,0.6],[4.36,0.29],[3.79,0.27],[3.34,0.64],[3.44,0.52],[3.42,0.48],[3.62,0.54],[3.4,0.12],[3.0,0.62],[3.08,0.25],[2.65,0.02],[3.55,-0.1],[4.05,-0.04],[4.25,0.0],[6.75,-0.1],[7.11,-0.16],[7.16,-0.29],[7.2,-0.34],[7.64,-0.34],[8.19,-0.38],[8.06,-0.53],[8.8,-0.52],[7.49,-0.85],[7.6,-0.85],[6.31,-0.72],[6.33,-0.78],[6.36,-1.07],[6.7,-1.45],[7.13,-0.76],[6.01,-1.51],[6.11,-2.05],[5.44,-1.16],[5.06,-0.55],[5.24,-0.36],[5.25,-0.47],[4.76,-1.38],[4.71,-2.53],[4.04,-1.95],[4.0,-1.13],[4.12,-0.39],[4.33,-0.53],[4.47,-0.53],[4.39,-0.75],[4.52,-0.18],[4.59,-0.15],[3.74,-1.2],[3.6,-1.31],[3.74,-1.41],[3.34,-1.38],[3.39,-2.49],[2.81,-2.45],[2.87,-1.93],[2.81,-1.83],[2.21,-1.82],[3.08,-1.68],[3.13,-1.65],[3.02,-1.18],[2.55,-1.16],[2.59,-1.11],[2.68,-1.26],[1.94,-1.27],[1.74,-1.6],[1.56,-1.71],[1.46,-2.19],[1.13,-2.07],[1.92,-2.14],[0.91,-2.36],[0.79,-2.55],[1.04,-2.94],[0.09,-2.85],[-0.18,-3.08],[-0.14,-3.18],[-0.22,-2.56],[0.4,-1.97],[0.54,-1.82],[3.22,-1.01],[3.47,-0.92],[3.48,-0.99],[3.47,-0.83],[3.0,-0.82],[3.18,-0.92],[2.59,-0.71],[2.41,-0.51],[2.29,-0.49],[2.15,-0.96],[2.21,-0.96],[2.02,-0.75],[2.74,-0.1],[2.67,-0.13],[2.51,-0.23],[2.39,-0.45],[2.94,-0.35],[3.07,-0.37],[3.0,-0.21],[3.05,-0.03],
[-0.28,0.1],[-0.27,-0.6],[-0.27,1.2],[-0.26,-1.3],[-0.26,0.7],[-0.25,1.9],[-0.25,-0.2],[-0.24,-1.9],[-0.24,0.4],[-0.23,1.5],[-0.23,-0.9],[-0.22,2.1],[-0.22,-0.4],[-0.21,0.9],[-0.21,-1.6],[-0.2,1.3],[-0.2,-0.1],[-0.19,-2.2],[-0.19,0.6],[-0.18,1.7],[-0.18,-0.7],[-0.17,0.2],[-0.17,-1.2],[-0.16,1.0],[-0.16,-2.4],[-0.15,1.6],[-0.15,-0.3],[-0.14,0.5],[-0.14,-1.5],[-0.13,2.0],[-0.13,-0.8],[-0.12,1.1],[-0.12,0.0],[-0.11,-1.9],[-0.11,0.8],[-0.1,1.4],[-0.1,-1.0],[-0.28,-1.0],[-0.27,1.6],[-0.26,-1.7],[-0.25,0.3],[-0.24,1.1],[-0.23,-1.4],[-0.22,0.8],[-0.21,-0.5],[-0.2,2.2],[-0.19,-1.1],[-0.18,0.0],[-0.17,1.4],[-0.16,-0.5],[-0.15,0.9],[-0.14,-2.1],[-0.13,0.3],[-0.12,-1.3],[-0.11,1.8],[-0.1,-0.4],[-0.27,-0.3],[-0.25,-1.2],[-0.23,0.0],[-0.21,1.9],[-0.19,0.3],[-0.17,-1.8],[-0.15,1.2],[-0.13,-0.2],[-0.11,0.5],[-0.26,2.0],[-0.24,-2.0],[-0.22,-1.5],[-0.2,0.5],[-0.18,-0.3],[-0.16,0.4],[-0.14,1.8],[-0.12,-0.6],[-0.28,0.6],[-0.27,-1.5],[-0.25,0.9],[-0.23,1.0],[-0.21,-2.4],[-0.19,1.0],[-0.17,-0.9],[-0.15,-1.2],
[-0.09,0.7],[-0.08,-1.4],[-0.07,1.9],[-0.06,-0.2],[-0.05,1.2],[-0.04,-2.0],[-0.03,0.3],[-0.02,1.6],[-0.01,-0.8],[0,2.3],[0.01,-1.3],[0.02,0.5],[0.03,1.4],[0.04,-0.4],[0.05,-1.8],[0.06,0.9],[0.07,1.8],[0.08,-0.9],[0.09,0.1],[0.1,-2.3],[0.11,1.1],[0.12,-0.5],[0.13,2.0],[0.14,0.4],[0.15,-1.5],[0.16,1.5],[0.17,-0.2],[0.18,0.8],[0.19,-1.1],[0.2,1.9],[-0.08,0.4],[-0.05,-0.6],[-0.02,0.9],[0.02,-2.2],[0.05,0.2],[0.08,1.2],[0.11,-1.6],[0.14,2.2],[0.17,0.6],[0.2,-0.6],[-0.07,-1.1],[0.0,-0.3],[0.06,-0.9],[0.12,0.7],[0.18,-2.0],
[0.21,0.3],[0.22,-1.4],[0.23,1.3],[0.24,-0.7],[0.25,2.1],[0.26,0.0],[0.27,-1.9],[0.28,0.9],[0.29,1.7],[0.3,-0.4],[0.31,-1.2],[0.32,0.5],[0.33,1.4],[0.34,-2.2],[0.35,-0.1],[0.36,1.0],[0.37,-0.8],[0.38,1.8],[0.39,0.2],[0.4,-1.6],[0.41,0.8],[0.42,-0.5],[0.43,1.5],[0.44,-1.1],[0.45,0.1],[0.46,2.0],[0.47,-1.8],[0.48,0.6],[0.49,-0.3],[0.5,1.2],[0.23,-2.4],[0.27,0.6],[0.31,2.0],[0.35,-1.5],[0.39,-0.9],[0.43,0.3],[0.47,1.7],[0.25,-0.3],[0.33,-0.6],[0.41,-2.0],[0.45,1.3],
[0.52,-0.9],[0.54,0.4],[0.55,1.6],[0.57,-1.5],[0.58,0.0],[0.6,2.0],[0.61,-0.6],[0.63,1.0],[0.64,-1.9],[0.66,0.5],[0.67,-0.2],[0.69,1.4],[0.7,-1.2],[0.72,0.8],[0.73,-0.7],[0.75,1.7],[0.76,0.1],[0.78,-1.6],[0.79,1.1],[0.81,-0.4],[0.82,0.6],[0.84,-1.0],[0.85,1.5],[0.87,-0.1],[0.88,-1.7],[0.9,0.9],[0.91,0.2],[0.93,-1.3],[0.94,1.3],[0.96,-0.6],[0.97,0.7],[0.99,1.9],[0.56,-2.1],[0.62,1.3],[0.68,-1.0],[0.74,0.3],[0.8,2.1],[0.86,0.4],[0.92,-0.3],[0.98,-1.7],[0.65,-1.4],[0.77,-0.4],
[1.01,-0.8],[1.03,0.6],[1.05,1.6],[1.07,-1.2],[1.09,0.2],[1.11,1.1],[1.13,-0.5],[1.15,-1.6],[1.17,0.9],[1.19,1.7],[1.21,-0.2],[1.23,0.5],[1.25,-1.0],[1.27,1.4],[1.29,0.0],[1.31,-1.4],[1.33,0.8],[1.35,1.9],[1.37,-0.7],[1.39,0.3],[1.41,1.2],[1.43,-0.4],[1.45,-1.7],[1.47,0.7],[1.49,1.5],[1.1,-1.9],[1.2,0.4],[1.3,1.8],[1.4,-1.1],[1.06,0.0],[1.24,-0.6],[1.44,0.1],
[1.52,-0.3],[1.55,0.9],[1.58,-1.0],[1.6,0.4],[1.63,1.3],[1.66,-0.6],[1.69,0.2],[1.72,1.1],[1.75,-0.8],[1.78,0.6],[1.81,-0.2],[1.84,0.9],[1.87,-0.5],[1.9,1.5],[1.93,0.3],[1.96,-0.7],[1.99,0.7],[2.02,-0.2],[2.05,0.5],[2.08,1.3],[2.11,-0.5],[2.14,0.1],[2.17,0.9],[1.65,1.7],[1.85,-1.2],[2.0,1.7],
[2.25,0.3],[2.32,-0.6],[2.38,0.8],[2.45,-0.3],[2.52,0.5],[2.58,1.3],[2.65,-0.6],[2.72,0.3],[2.78,0.9],[2.85,-0.5],[2.9,0.6],[2.97,-0.7],[3.05,0.4],[3.12,-0.2],[2.35,1.1],[2.6,-1.0],[2.15,-1.2],
[-0.27,0.35],[-0.26,-0.45],[-0.25,1.45],[-0.24,-1.05],[-0.23,0.65],[-0.22,1.75],[-0.21,-0.15],[-0.2,-1.85],[-0.19,0.15],[-0.18,1.25],[-0.17,-0.55],[-0.16,2.1],[-0.15,-1.65],[-0.14,0.75],[-0.13,1.45],[-0.12,-1.05],[-0.11,0.05],[-0.1,1.75],[-0.09,-2.0],[-0.08,0.95],[-0.27,-2.1],[-0.25,2.15],[-0.23,-0.75],[-0.21,0.45],[-0.19,-1.45],[-0.17,0.85],[-0.15,2.0],[-0.13,-1.75],[-0.11,1.25],[-0.09,-0.25],[-0.26,1.35],[-0.24,-0.15],[-0.22,-2.2],[-0.2,0.95],[-0.18,-0.95],[-0.16,1.55],[-0.14,-0.35],[-0.12,0.55],[-0.1,-1.55],[-0.08,2.05],
[0.02,1.05],[0.04,-1.15],[0.06,0.35],[0.08,2.0],[0.1,-0.25],[0.12,1.45],[0.14,-1.75],[0.16,0.15],[0.18,1.2],[0.2,-0.95],[0.22,0.55],[0.24,1.65],[0.26,-1.35],[0.28,-0.15],[0.3,0.85],[0.32,2.15],[0.34,-0.65],[0.36,0.35],[0.38,-1.35],[0.4,1.15],[0.42,0.05],[0.44,-0.75],[0.46,0.65],[0.48,1.45],[0.5,-1.05],[0.52,0.25],[0.54,-1.55],[0.56,1.15],[0.58,-0.45],[0.6,0.65],[0.62,-0.95],[0.64,1.85],[0.66,-0.15],[0.68,0.35],[0.7,-1.65],[0.72,1.25],[0.74,-0.35],[0.76,0.85],[0.78,-1.15],[0.8,0.45],[0.82,1.35],[0.84,-0.65],[0.86,-1.35],[0.88,0.15],[0.9,1.55],[0.92,-0.85],[0.94,0.55],[0.96,-1.55],[0.98,1.05],[1.0,-0.35],[0.15,-0.55],[0.35,1.65],[0.55,-0.75],[0.75,-1.95],[0.95,0.05],[0.25,0.95],[0.45,-1.9],[0.65,1.45],[0.85,0.75],[0.05,-1.6],
[1.02,1.25],[1.06,-0.45],[1.1,0.75],[1.14,-1.25],[1.18,0.35],[1.22,1.45],[1.26,-0.85],[1.3,0.15],[1.34,-0.35],[1.38,1.05],[1.42,-1.45],[1.46,0.45],[1.5,-0.65],[1.54,1.25],[1.58,0.05],[1.62,-1.35],[1.66,0.65],[1.7,-0.35],[1.74,1.45],[1.78,-0.95],[1.82,0.35],[1.86,1.15],[1.9,-0.15],[1.94,-1.05],[1.98,0.95],[1.12,1.85],[1.32,-1.75],[1.52,1.75],[1.72,0.15],[1.92,-0.65],[1.16,-0.95],[1.36,0.55],[1.56,-1.05],[1.76,0.85],[1.96,0.25],
[2.04,0.35],[2.12,1.05],[2.22,-0.25],[2.3,0.65],[2.42,-0.85],[2.5,1.15],[2.62,0.25],[2.7,-0.45],[2.82,0.95],[2.9,0.05],[2.28,-1.35],[2.56,0.65],[2.76,-1.05],[2.46,1.65],[2.86,-0.95]
];

// Correctly specified model, two-step transformation applied to y
const corTransY = [
[0.03,-5.02],[0.02,-4.59],[-0.05,-4.29],[0.23,-4.38],[1.05,-4.18],[0.75,-3.64],[0.84,-3.27],[0.42,-3.13],[8.78,-1.94],[9.02,-2.17],[8.07,-1.63],[7.65,-1.8],[7.62,-1.42],[7.07,-1.44],[7.11,-1.66],[7.15,-1.69],[6.57,-1.68],[6.63,-1.68],[6.68,-1.41],[6.58,-0.57],[6.2,-0.64],[6.23,-1.1],[6.28,-1.23],[6.3,-1.34],[6.23,-1.45],[6.0,-0.82],[5.93,-1.07],[5.87,-1.57],[5.63,-0.81],[5.55,-0.93],[5.58,-0.98],[5.6,-1.26],[5.39,-1.52],[5.3,-1.19],[5.72,0.04],[5.27,0.06],[5.21,-0.12],[5.03,-0.27],[4.81,-0.82],[4.83,-0.17],[4.65,-0.16],[4.7,-0.44],[4.5,-0.34],[4.45,-0.16],[4.31,0.37],[4.23,-0.75],[4.2,-1.61],[4.05,-0.03],[3.97,-0.21],[4.01,0.02],[3.9,0.17],[3.7,0.74],[3.75,0.44],[3.8,0.2],[3.6,-1.1],[3.6,-0.44],[3.45,0.06],[3.35,0.06],[3.4,1.11],[3.43,0.99],[3.22,1.19],[3.13,1.02],[3.35,-0.66],[3.25,-0.57],[3.07,-1.81],[3.03,-0.64],[3.15,-0.21],[3.15,-0.12],[2.9,-0.09],[2.8,-0.92],[2.68,-0.83],[2.6,-1.32],[2.56,-1.22],[2.56,-1.93],[2.72,-0.48],[2.45,-0.59],[2.3,-0.59],[2.05,-1.37],[1.8,-1.93],[1.82,-0.86],[1.6,-0.73],[1.65,-1.28],[1.5,-1.54],[1.31,-1.25],[1.31,-2.37],[1.05,-2.49],[1.1,-1.7],[0.95,-2.02],[1.0,-2.02],[1.03,-0.77],[0.95,-0.86],[0.87,-1.91],[0.81,-1.93],[0.88,-2.27],[0.81,-1.55],[0.71,-1.47],[0.27,-2.88],[0.33,-2.66],[0.6,-2.34],[0.53,-2.16],[2.3,2.06],[2.03,2.04],[2.5,1.62],[2.68,1.62],[2.75,1.24],[2.6,1.38],[2.55,1.29],[2.45,1.24],[1.0,2.71],[0.67,2.62],[0.25,2.85],[0.35,2.77],[0.92,2.4],[1.2,2.1],[1.5,2.08],[1.4,2.01],[1.65,1.83],[1.95,1.91],[1.97,1.7],[1.7,1.7],[2.15,1.44],[2.0,1.33],[2.13,0.93],[2.37,0.65],[2.25,0.52],[2.67,0.83],[2.82,0.7],[3.0,0.79],[3.13,0.63],[2.65,0.34],[2.75,0.24],[2.9,0.38],[2.98,0.23],[2.27,0.06],[2.12,-0.09],[2.0,-0.39],[2.12,-0.39],[2.34,-0.25],[2.4,-0.3],[1.85,0.34],[1.8,0.06],[1.7,-0.03],[1.6,-0.03],[1.47,-0.39],[1.4,-0.44],[1.35,0.04],[1.22,0.02],[1.13,-0.09],
[-0.1,0.2],[-0.09,-1.1],[-0.09,1.4],[-0.08,-2.2],[-0.08,0.6],[-0.07,2.1],[-0.07,-0.4],[-0.06,-1.7],[-0.06,1.0],[-0.05,-2.8],[-0.05,0.0],[-0.04,1.8],[-0.04,-0.9],[-0.03,0.4],[-0.03,-1.5],[-0.02,2.4],[-0.02,-0.2],[-0.01,1.2],[-0.01,-2.5],[0,0.8],[0,-0.7],[0.01,1.6],[0.01,-1.3],[0.02,-3.0],[0.02,0.3],[0.03,2.0],[0.03,-0.5],[0.04,-1.9],[0.04,1.1],[0.05,0.0],[0.05,-2.4],[0.06,1.5],[0.06,-1.0],[0.07,0.5],[0.07,2.3],[0.08,-0.3],[0.08,-1.6],[0.09,0.9],[0.09,-2.7],[0.1,1.9],[0.1,-0.8],[-0.1,-1.4],[-0.08,1.7],[-0.06,-0.1],[-0.04,-3.2],[-0.02,1.5],[0,-1.8],[0.02,1.2],[0.04,0.5],[0.06,-2.1],[0.08,2.0],[0.1,0.1],[-0.09,-0.6],[-0.07,0.9],[-0.05,1.3],[-0.03,-2.1],[-0.01,0.2],[0.01,0.6],[0.03,-1.1],[0.05,1.7],[0.07,-1.3],[0.09,0.3],[-0.1,2.2],[-0.06,-3.4],[-0.02,-1.0],[0.02,2.2],[0.06,0.7],[0.1,-1.7],[-0.08,-2.9],[0.0,2.5],[0.08,-3.1],[-0.04,0.7],
[0.11,-0.4],[0.12,1.3],[0.13,-1.7],[0.14,0.6],[0.15,2.3],[0.16,-0.9],[0.17,0.1],[0.18,1.8],[0.19,-2.3],[0.2,0.9],[0.21,-0.6],[0.22,1.5],[0.23,-1.4],[0.24,0.3],[0.25,2.0],[0.26,-2.0],[0.27,1.1],[0.28,-0.1],[0.29,0.7],[0.3,-1.1],[0.31,1.7],[0.32,-2.6],[0.33,0.4],[0.34,2.2],[0.35,-0.7],[0.36,1.2],[0.37,-1.6],[0.38,0.0],[0.39,1.9],[0.4,-0.4],[0.41,0.8],[0.42,-2.2],[0.43,1.4],[0.44,-1.0],[0.45,0.5],[0.46,2.1],[0.47,-0.2],[0.48,-1.8],[0.49,1.0],[0.5,0.2],[0.13,0.2],[0.17,-1.2],[0.21,2.4],[0.25,-0.8],[0.29,-2.1],[0.33,1.0],[0.37,0.6],[0.41,-1.3],[0.45,1.6],[0.49,-0.6],[0.15,-2.5],[0.23,0.8],[0.31,-0.3],[0.39,-2.4],[0.47,1.3],
[0.51,-1.0],[0.53,1.4],[0.55,0.1],[0.57,-1.6],[0.59,2.0],[0.61,0.6],[0.63,-0.5],[0.65,1.1],[0.67,-2.0],[0.69,0.3],[0.71,1.7],[0.73,-0.9],[0.75,0.8],[0.77,-0.1],[0.79,1.3],[0.81,-1.4],[0.83,0.5],[0.85,2.2],[0.87,-0.4],[0.89,1.0],[0.91,-1.1],[0.93,0.2],[0.95,1.6],[0.97,-0.7],[0.99,0.9],[0.54,-0.3],[0.58,1.8],[0.62,-1.2],[0.66,0.0],[0.7,-0.4],[0.74,1.9],[0.78,0.4],[0.82,-0.6],[0.86,0.9],[0.9,1.9],[0.94,-0.3],[0.98,0.4],[0.56,0.9],[0.64,2.1],[0.72,-1.5],[0.8,0.0],[0.88,-1.6],[0.96,1.2],
[1.02,0.5],[1.05,-0.8],[1.08,1.3],[1.1,0.0],[1.13,1.8],[1.15,-0.5],[1.18,0.9],[1.2,-1.2],[1.23,0.3],[1.25,1.5],[1.28,-0.3],[1.3,1.0],[1.33,0.6],[1.35,-0.9],[1.38,1.7],[1.4,0.2],[1.43,-0.5],[1.45,1.2],[1.48,0.7],[1.5,1.9],[1.53,-0.2],[1.55,1.0],[1.58,0.4],[1.07,-1.5],[1.17,2.0],[1.27,0.8],[1.37,-0.1],[1.47,-1.0],[1.57,1.4],[1.12,0.4],[1.32,1.3],
[1.62,0.8],[1.66,1.5],[1.7,0.2],[1.74,1.1],[1.78,-0.5],[1.82,0.6],[1.86,1.3],[1.9,0.0],[1.94,0.9],[1.98,1.6],[2.02,0.4],[2.06,1.2],[2.1,-0.2],[2.14,0.7],[2.18,1.1],[2.22,0.3],[2.26,1.4],[2.3,0.9],[1.68,-0.8],[1.88,-0.9],[2.08,0.6],[2.2,-0.4],[1.76,1.9],
[2.35,0.2],[2.4,1.0],[2.5,0.5],[2.58,1.3],[2.62,-0.1],[2.7,0.9],[2.8,0.5],[2.85,-0.3],[2.95,0.6],[3.05,0.3],[3.2,-0.2],[3.3,0.4],[2.45,1.4],[2.55,0.1],
[-0.1,0.95],[-0.09,-0.35],[-0.08,1.25],[-0.07,-1.45],[-0.06,0.45],[-0.05,2.05],[-0.04,-0.55],[-0.03,1.35],[-0.02,-2.3],[-0.01,0.65],[0,-1.15],[0.01,2.2],[0.02,-0.45],[0.03,0.95],[0.04,-2.6],[0.05,1.45],[0.06,-0.25],[0.07,-1.9],[0.08,1.05],[0.09,-0.95],[-0.1,-2.35],[-0.08,0.05],[-0.06,1.85],[-0.04,-1.25],[-0.02,0.35],[0,1.65],[0.02,-1.65],[0.04,2.45],[0.06,-2.85],[0.08,0.55],[-0.09,2.45],[-0.07,-2.65],[-0.05,-0.75],[-0.03,2.25],[-0.01,-1.55],[0.01,-0.05],[0.03,-2.95],[0.05,0.75],[0.07,1.75],[0.09,-2.25],
[0.12,0.75],[0.14,-1.05],[0.16,1.55],[0.18,-0.25],[0.2,2.15],[0.22,-1.85],[0.24,0.55],[0.26,1.35],[0.28,-0.85],[0.3,0.25],[0.32,1.85],[0.34,-1.55],[0.36,0.65],[0.38,-0.45],[0.4,1.45],[0.42,0.25],[0.44,-1.35],[0.46,1.05],[0.48,-0.65],[0.5,1.75],[0.52,-1.75],[0.54,0.45],[0.56,1.35],[0.58,-0.75],[0.6,0.15],[0.62,1.65],[0.64,-1.15],[0.66,0.85],[0.68,-0.35],[0.7,2.05],[0.72,0.55],[0.74,-1.05],[0.76,1.25],[0.78,-0.55],[0.8,1.75],[0.82,0.25],[0.84,-1.25],[0.86,1.45],[0.88,0.05],[0.9,-0.85],[0.92,0.95],[0.94,2.05],[0.96,-0.15],[0.98,1.45],[0.15,-2.9],[0.25,-1.25],[0.35,-2.25],[0.45,-0.15],[0.55,-2.45],[0.65,-1.75],[0.75,2.25],[0.85,-0.15],[0.95,-1.35],[0.19,0.35],[0.29,2.3],[0.39,0.95],[0.49,-2.0],[0.59,0.95],[0.69,-2.4],[0.79,-0.95],
[1.03,1.15],[1.06,-0.35],[1.09,1.85],[1.12,0.75],[1.15,-1.05],[1.18,1.45],[1.21,0.45],[1.24,-0.65],[1.27,1.25],[1.3,0.35],[1.33,1.95],[1.36,-0.55],[1.39,0.95],[1.42,1.55],[1.45,-0.15],[1.48,1.15],[1.51,0.55],[1.54,1.65],[1.57,-0.45],[1.6,0.85],[1.63,1.35],[1.66,0.15],[1.69,1.05],[1.72,0.55],[1.75,-0.25],[1.78,1.25],[1.81,0.85],[1.84,1.55],[1.87,0.35],[1.9,1.05],[1.93,0.55],[1.96,1.25],[1.99,0.15],[1.1,-1.85],[1.3,-1.45],[1.5,-1.05],[1.7,-1.35],[1.9,-0.65],[1.2,2.25],[1.6,1.95],
[2.05,0.85],[2.15,0.25],[2.25,1.05],[2.35,0.45],[2.45,0.85],[2.55,1.35],[2.65,0.55],[2.75,0.95],[2.85,0.25],[2.95,0.95],[2.1,1.6],[2.3,1.35],[2.5,0.05],[2.7,0.65],[2.9,-0.55],[2.2,-0.9],[2.6,-0.4],[2.8,1.05],[3.1,0.35],[3.25,0.85]
];

// Correctly specified model, two-step transformation applied to x and y
const corTransXY = [
[0.07,-5.04],[0.05,-4.61],[-0.01,-4.31],[0.24,-4.37],[1.11,-4.22],[0.71,-3.58],[0.87,-3.28],[0.41,-3.1],[10.4,-3.54],[10.4,-3.95],[9.18,-3.31],[8.48,-2.28],[7.97,-2.51],[7.57,-1.95],[7.28,-1.87],[7.01,-1.74],[6.77,-1.83],[6.38,-1.46],[6.21,-1.22],[6.06,-1.04],[5.94,-1.13],[5.8,-0.65],[6.57,-0.54],[5.67,1.22],[5.69,-0.13],[5.56,-0.37],[5.46,-0.6],[5.38,-1.05],[5.1,-0.76],[5.19,-0.35],[4.97,-0.29],[5.02,-0.42],[5.29,0.48],[4.87,-1.01],[4.81,-0.69],[4.77,-0.51],[4.75,0.6],[4.66,0.42],[4.49,-0.51],[4.45,0.3],[4.37,0.19],[4.11,-1.49],[4.15,-0.65],[4.19,0.51],[4.24,-0.06],[4.28,0.16],[3.82,0.33],[3.74,0.71],[3.78,0.49],[3.88,-0.13],[3.63,0.19],[3.59,-0.45],[3.67,-1.14],[3.51,1.12],[3.57,0.89],[3.44,0.95],[3.25,1.17],[3.14,1.05],[3.02,-1.76],[2.99,-0.6],[2.96,0.28],[2.94,-0.1],[2.83,-0.08],[2.79,-0.87],[2.71,-0.85],[2.51,-1.84],[2.49,-1.13],[2.53,-1.2],[2.63,1.69],[2.39,1.75],[2.7,1.31],[2.68,0.95],[2.62,-0.2],[2.37,-0.35],[2.25,-0.31],[1.99,2.1],[1.9,1.95],[1.76,-1.88],[2.03,-1.33],[1.59,-1.26],[1.48,-1.49],[1.38,-2.42],[1.05,-2.49],[1.17,-1.74],[0.27,2.85],[0.98,2.76],[0.68,2.62],[0.9,2.42],[1.44,2.1],[1.78,1.85],
[-0.05,0.3],[-0.04,-1.2],[-0.04,1.5],[-0.03,-2.3],[-0.03,0.7],[-0.02,2.2],[-0.02,-0.5],[-0.01,-1.8],[-0.01,1.1],[0,-2.9],[0,0.1],[0.01,1.9],[0.01,-0.8],[0.02,0.5],[0.02,-1.6],[0.03,2.4],[0.03,-0.1],[0.04,1.3],[0.04,-2.6],[0.05,0.9],[0.05,-0.6],[0.06,1.7],[0.06,-1.4],[0.07,-3.1],[0.07,0.2],[0.08,2.0],[0.08,-0.4],[0.09,-2.0],[0.09,1.2],[0.1,-0.1],[0.1,-2.5],[0.11,1.6],[0.11,-1.0],[0.12,0.6],[0.12,2.3],[-0.05,-1.5],[-0.03,1.8],[-0.01,-0.2],[0.01,-3.3],[0.03,1.4],[0.05,-1.9],[0.07,1.1],[0.09,0.4],[0.11,-2.2],[-0.04,-0.6],[-0.02,0.9],[0,1.4],[0.02,-2.1],[0.04,0.3],[0.06,0.7],[0.08,-1.2],[0.1,1.8],[0.12,-0.7],[-0.05,2.1],[-0.01,-3.4],[0.03,-1.2],[0.07,2.2],[0.11,0.0],[-0.03,-2.8],[0.05,2.5],[0.09,-3.0],[0.0,0.6],
[0.13,-0.5],[0.14,1.2],[0.15,-1.8],[0.16,0.5],[0.17,2.2],[0.18,-1.0],[0.19,0.0],[0.2,1.7],[0.21,-2.4],[0.22,0.8],[0.23,-0.7],[0.24,1.4],[0.25,-1.5],[0.26,0.2],[0.27,1.9],[0.28,-2.1],[0.29,1.0],[0.3,-0.2],[0.31,0.6],[0.32,-1.2],[0.33,1.6],[0.34,-2.7],[0.35,0.3],[0.36,2.1],[0.37,-0.8],[0.38,1.1],[0.39,-1.7],[0.4,-0.1],[0.41,1.8],[0.42,-0.5],[0.43,0.7],[0.44,-2.3],[0.45,1.3],[0.46,-1.1],[0.47,0.4],[0.48,2.0],[0.49,-0.3],[0.5,-1.9],[0.15,0.3],[0.19,-1.3],[0.23,2.3],[0.27,-0.9],[0.31,-2.2],[0.35,0.9],[0.39,0.5],[0.43,-1.4],[0.47,1.5],[0.17,-2.6],[0.25,0.7],[0.33,-0.4],[0.41,-2.5],[0.49,1.2],
[0.51,-0.9],[0.53,1.3],[0.55,0.0],[0.57,-1.5],[0.59,1.9],[0.61,0.5],[0.63,-0.6],[0.65,1.0],[0.67,-2.1],[0.69,0.2],[0.71,1.6],[0.73,-1.0],[0.75,0.7],[0.77,-0.2],[0.79,1.2],[0.81,-1.5],[0.83,0.4],[0.85,2.1],[0.87,-0.5],[0.89,0.9],[0.91,-1.2],[0.93,0.1],[0.95,1.5],[0.97,-0.8],[0.99,0.8],[0.54,-0.2],[0.58,1.7],[0.62,-1.3],[0.66,-0.1],[0.7,-0.5],[0.74,1.8],[0.78,0.3],[0.82,-0.7],[0.86,1.0],[0.9,1.8],[0.94,-0.4],[0.98,0.3],[0.56,1.0],[0.64,2.0],[0.72,-1.6],[0.8,0.1],[0.88,-1.7],[0.96,1.1],
[1.02,0.4],[1.05,-0.9],[1.08,1.2],[1.1,-0.1],[1.13,1.7],[1.15,-0.6],[1.18,0.8],[1.2,-1.3],[1.23,0.2],[1.25,1.4],[1.28,-0.4],[1.3,0.9],[1.33,0.5],[1.35,-1.0],[1.38,1.6],[1.4,0.1],[1.43,-0.6],[1.45,1.1],[1.48,0.6],[1.5,1.8],[1.53,-0.3],[1.55,0.9],[1.58,0.3],[1.62,1.3],[1.66,-0.2],[1.07,-1.6],[1.17,1.9],[1.27,0.7],[1.37,-0.2],[1.47,-1.1],[1.57,1.5],[1.12,0.3],[1.32,1.2],
[1.72,0.7],[1.76,1.4],[1.8,0.1],[1.84,1.0],[1.88,-0.6],[1.92,0.5],[1.96,1.2],[2.0,-0.1],[2.04,0.8],[2.08,1.5],[2.12,0.3],[2.16,1.1],[2.2,-0.3],[2.24,0.6],[2.28,1.0],[2.32,0.2],[2.36,1.3],[2.4,0.8],[1.78,-0.9],[1.98,-1.0],[2.18,0.5],[2.3,-0.5],[1.86,1.8],
[2.55,0.1],[2.6,0.9],[2.7,0.4],[2.78,1.2],[2.85,-0.2],[2.9,0.8],[3.0,0.4],[3.08,-0.4],[3.18,0.5],[3.28,0.2],[3.4,-0.3],[3.5,0.3],[2.65,1.3],[2.75,0.0],
[-0.05,0.95],[-0.04,-0.35],[-0.03,1.25],[-0.02,-1.45],[-0.01,0.45],[0,2.05],[0.01,-0.55],[0.02,1.35],[0.03,-2.3],[0.04,0.65],[0.05,-1.15],[0.06,2.2],[0.07,-0.45],[0.08,0.95],[0.09,-2.6],[0.1,1.45],[0.11,-0.25],[0.12,-1.9],[-0.05,1.05],[-0.04,-0.95],[-0.03,-2.35],[-0.01,0.05],[0.01,1.85],[0.03,-1.25],[0.05,0.35],[0.07,1.65],[0.09,-1.65],[0.11,2.45],[-0.02,-2.85],[0.0,0.55],[-0.04,2.45],[-0.02,-2.65],[0.0,-0.75],[0.02,2.25],[0.04,-1.55],[0.06,-0.05],[0.08,-2.95],[0.1,0.75],[0.12,1.75],[-0.05,-2.25],
[0.14,0.75],[0.16,-1.05],[0.18,1.55],[0.2,-0.25],[0.22,2.15],[0.24,-1.85],[0.26,0.55],[0.28,1.35],[0.3,-0.85],[0.32,0.25],[0.34,1.85],[0.36,-1.55],[0.38,0.65],[0.4,-0.45],[0.42,1.45],[0.44,0.25],[0.46,-1.35],[0.48,1.05],[0.5,-0.65],[0.52,1.75],[0.54,-1.75],[0.56,0.45],[0.58,1.35],[0.6,-0.75],[0.62,0.15],[0.64,1.65],[0.66,-1.15],[0.68,0.85],[0.7,-0.35],[0.72,2.05],[0.74,0.55],[0.76,-1.05],[0.78,1.25],[0.8,-0.55],[0.82,1.75],[0.84,0.25],[0.86,-1.25],[0.88,1.45],[0.9,0.05],[0.92,-0.85],[0.94,0.95],[0.96,2.05],[0.98,-0.15],[1.0,1.45],[0.17,-2.9],[0.27,-1.25],[0.37,-2.25],[0.47,-0.15],[0.57,-2.45],[0.67,-1.75],[0.77,2.25],[0.87,-0.15],[0.97,-1.35],[0.21,0.35],[0.31,2.3],[0.41,0.95],[0.51,-2.0],[0.61,0.95],[0.71,-2.4],[0.81,-0.95],
[1.04,1.15],[1.07,-0.35],[1.1,1.85],[1.14,0.75],[1.17,-1.05],[1.21,1.45],[1.24,0.45],[1.28,-0.65],[1.31,1.25],[1.35,0.35],[1.38,1.95],[1.42,-0.55],[1.45,0.95],[1.49,1.55],[1.52,-0.15],[1.56,1.15],[1.59,0.55],[1.63,1.65],[1.66,-0.45],[1.7,0.85],[1.73,1.35],[1.77,0.15],[1.8,1.05],[1.84,0.55],[1.87,-0.25],[1.91,1.25],[1.94,0.85],[1.98,1.55],[2.01,0.35],[2.05,1.05],[2.08,0.55],[2.12,1.25],[2.15,0.15],[1.12,-1.85],[1.33,-1.45],[1.55,-1.05],[1.76,-1.35],[1.97,-0.65],[1.26,2.25],[1.68,1.95],
[2.22,0.85],[2.32,0.25],[2.42,1.05],[2.52,0.45],[2.62,0.85],[2.72,1.35],[2.82,0.55],[2.92,0.95],[3.02,0.25],[3.12,0.95],[2.27,1.6],[2.47,1.35],[2.67,0.05],[2.87,0.65],[3.07,-0.55],[2.37,-0.9],[2.77,-0.4],[2.97,1.05],[3.27,0.35],[3.42,0.85]
];

// Smoothed trend of residuals against fitted values (red curves)
const misOriginalSmooth = [[-2.24,12.72],[-2.0,10.75],[-1.5,7.05],[-1.0,4.15],[-0.5,1.84],[0.0,0.22],[0.5,-0.73],[0.95,-1.0],[1.5,-0.62],[2.0,0.3],[2.5,2.2],[3.0,5.0],[3.36,7.05]];
const misTransYSmooth = [[-1.91,10.8],[-1.73,9.4],[-1.5,7.6],[-1.2,5.75],[-1.0,4.75],[-0.5,2.3],[0.0,0.45],[0.5,-0.58],[0.93,-0.88],[1.5,-0.41],[2.0,0.78],[2.5,2.68],[3.0,5.3],[3.12,6.05]];
const misTransXYSmooth = [[-1.5,7.18],[-1.0,4.4],[-0.5,2.25],[0.0,0.55],[0.5,-0.48],[1.0,-0.82],[1.5,-0.38],[2.0,0.85],[2.5,2.6],[3.0,5.0],[3.41,7.05]];
const corOriginalSmooth = [[-0.28,-0.01],[1,0.0],[2,0.0],[4,0.0],[6,-0.01],[8,-0.03],[10.47,-0.08]];
const corTransYSmooth = [[-0.1,-0.3],[0,-0.23],[0.5,0.05],[1,0.25],[1.5,0.38],[2,0.46],[2.55,0.5],[3,0.48],[3.5,0.38],[4,0.22],[4.6,0.0],[5,-0.2],[5.5,-0.45],[6,-0.75],[6.5,-1.12],[7,-1.55],[7.5,-2.0],[8,-2.5],[8.5,-3.1],[9.02,-3.87]];
const corTransXYSmooth = [[-0.05,-0.29],[0.5,0.0],[1,0.22],[1.5,0.37],[2,0.47],[2.68,0.53],[3.5,0.43],[4,0.28],[4.85,0.0],[5.5,-0.28],[6,-0.52],[6.5,-0.82],[7,-1.18],[7.5,-1.6],[8,-2.05],[8.5,-2.55],[9,-3.12],[9.5,-3.75],[10,-4.5],[10.45,-5.42]];

// Tick values
const misOriginalXTicks = [-2,-1,0,1,2,3];
const misOriginalYTicks = [0,5,10];
const misTransYXTicks = [-2,-1,0,1,2,3];
const misTransYYTicks = [-5,0,5];
const misTransXYXTicks = [-1,0,1,2,3];
const misTransXYYTicks = [-6,-4,-2,0,2,4,6,8];
const corOriginalXTicks = [0,2,4,6,8,10];
const corOriginalYTicks = [-3,-2,-1,0,1,2];
const corTransYXTicks = [0,2,4,6,8];
const corTransYYTicks = [-4,-2,0,2];
const corTransXYXTicks = [0,2,4,6,8,10];
const corTransXYYTicks = [-4,-2,0,2];

// Headings
const columnTitles = [["Original data"], ["Two-step transformation", "applied to ", "y"], ["Two-step transformation", "applied to ", "x", " and ", "y"]];
const rowTitles = ["Misspecified model", "Correctly specified  model"];

// ---- Layout ----
const SANS = "'Liberation Sans', Arial, Helvetica, sans-serif";
const SERIF = "'Liberation Serif', 'Times New Roman', Times, serif";

const panels = [
  {points: misOriginal, smooth: misOriginalSmooth, xTicks: misOriginalXTicks, yTicks: misOriginalYTicks, left: 103.3, top: 84, right: 432.3, bottom: 396.7},
  {points: misTransY, smooth: misTransYSmooth, xTicks: misTransYXTicks, yTicks: misTransYYTicks, left: 519.3, top: 84, right: 848.3, bottom: 396.4},
  {points: misTransXY, smooth: misTransXYSmooth, xTicks: misTransXYXTicks, yTicks: misTransXYYTicks, left: 935.7, top: 84, right: 1263.5, bottom: 396.7},
  {points: corOriginal, smooth: corOriginalSmooth, xTicks: corOriginalXTicks, yTicks: corOriginalYTicks, left: 103.3, top: 526, right: 432.3, bottom: 838.3},
  {points: corTransY, smooth: corTransYSmooth, xTicks: corTransYXTicks, yTicks: corTransYYTicks, left: 519.3, top: 526, right: 848.3, bottom: 838.3},
  {points: corTransXY, smooth: corTransXYSmooth, xTicks: corTransXYXTicks, yTicks: corTransXYYTicks, left: 935.7, top: 526, right: 1263.5, bottom: 838.3}
];

const fmt = v => v < 0 ? "\u2212" + Math.abs(v) : String(v);
const svg = d3.select("#chart");
svg.append("rect").attr("width", 1265).attr("height", 899).attr("fill", "#fff");
const defs = svg.append("defs");

panels.forEach((p, i) => {
  const g = svg.append("g");
  // R-style axis ranges: data extent widened by 4% on each side
  const xe = d3.extent(p.points, d => d[0]);
  const ye = d3.extent(p.points, d => d[1]);
  const px = (xe[1] - xe[0]) * 0.04, py = (ye[1] - ye[0]) * 0.04;
  const x = d3.scaleLinear().domain([xe[0] - px, xe[1] + px]).range([p.left, p.right]);
  const y = d3.scaleLinear().domain([ye[0] - py, ye[1] + py]).range([p.bottom, p.top]);

  const clipId = "plotclip" + i;
  defs.append("clipPath").attr("id", clipId).append("rect")
    .attr("x", p.left).attr("y", p.top)
    .attr("width", p.right - p.left).attr("height", p.bottom - p.top);

  // grid
  const grid = g.append("g").attr("stroke", "#d3d3d3").attr("stroke-width", 1);
  grid.selectAll("line.gx").data(p.xTicks).join("line").attr("class", "gx")
    .attr("x1", d => x(d)).attr("x2", d => x(d)).attr("y1", p.top).attr("y2", p.bottom);
  grid.selectAll("line.gy").data(p.yTicks).join("line").attr("class", "gy")
    .attr("y1", d => y(d)).attr("y2", d => y(d)).attr("x1", p.left).attr("x2", p.right);

  // residual points
  g.append("g").attr("clip-path", `url(#${clipId})`)
    .selectAll("circle").data(p.points).join("circle")
    .attr("cx", d => x(d[0])).attr("cy", d => y(d[1])).attr("r", 3.0)
    .attr("fill", "none").attr("stroke", "#000").attr("stroke-width", 1.0);

  // zero reference line
  g.append("line").attr("x1", p.left).attr("x2", p.right)
    .attr("y1", y(0)).attr("y2", y(0))
    .attr("stroke", "#000").attr("stroke-width", 2.2).attr("stroke-dasharray", "9,6");

  // smoothed trend
  g.append("path").datum(p.smooth).attr("clip-path", `url(#${clipId})`)
    .attr("d", d3.line().x(d => x(d[0])).y(d => y(d[1])).curve(d3.curveCatmullRom.alpha(0.5)))
    .attr("fill", "none").attr("stroke", "#ff0000").attr("stroke-width", 2.8);

  // box
  g.append("rect").attr("x", p.left).attr("y", p.top)
    .attr("width", p.right - p.left).attr("height", p.bottom - p.top)
    .attr("fill", "none").attr("stroke", "#000").attr("stroke-width", 1.3);

  // x axis
  const xa = g.append("g").attr("transform", `translate(0,${p.bottom})`)
    .call(d3.axisBottom(x).tickValues(p.xTicks).tickSize(6).tickPadding(11).tickFormat(fmt));
  xa.select(".domain").remove();
  xa.attr("font-family", SANS).attr("font-size", 11.5);
  xa.selectAll("line").attr("stroke", "#000");

  // y axis, labels parallel to the axis
  const yaxis = g.append("g").attr("transform", `translate(${p.left},0)`)
    .call(d3.axisLeft(y).tickValues(p.yTicks).tickSize(6).tickFormat(fmt));
  yaxis.select(".domain").remove();
  yaxis.attr("font-family", SANS).attr("font-size", 11.5);
  yaxis.selectAll("line").attr("stroke", "#000");
  yaxis.selectAll("text").attr("x", null).attr("dy", null)
    .attr("text-anchor", "middle").attr("transform", "translate(-16,0) rotate(-90)");

  // axis titles
  g.append("text").attr("x", (p.left + p.right) / 2).attr("y", p.bottom + 54)
    .attr("text-anchor", "middle").attr("font-family", SANS).attr("font-size", 11.5)
    .text("Fitted values");
  g.append("text")
    .attr("transform", `translate(${p.left - 44},${(p.top + p.bottom) / 2}) rotate(-90)`)
    .attr("text-anchor", "middle").attr("font-family", SANS).attr("font-size", 11.5)
    .text("Pearson residuals");
});

// column headings
const colCenters = [273, 694, 1101];
svg.append("text").attr("x", colCenters[0]).attr("y", 54).attr("text-anchor", "middle")
  .attr("font-family", SERIF).attr("font-size", 32).text(columnTitles[0][0]);
[1, 2].forEach(c => {
  const parts = columnTitles[c];
  svg.append("text").attr("x", colCenters[c]).attr("y", 31).attr("text-anchor", "middle")
    .attr("font-family", SERIF).attr("font-size", 32).text(parts[0]);
  const t = svg.append("text").attr("x", colCenters[c]).attr("y", 67).attr("text-anchor", "middle")
    .attr("font-family", SERIF).attr("font-size", 32).style("white-space", "pre");
  parts.slice(1).forEach((s, k) => {
    t.append("tspan").attr("font-style", k % 2 === 1 ? "italic" : "normal").text(s);
  });
});

// row headings
const rowCenters = [247.5, 677];
rowTitles.forEach((s, r) => {
  svg.append("text").attr("transform", `translate(33,${rowCenters[r]}) rotate(-90)`)
    .attr("text-anchor", "middle").attr("font-family", SERIF).attr("font-size", 32)
    .style("white-space", "pre").text(s);
});
</script>
</body>
</html>
